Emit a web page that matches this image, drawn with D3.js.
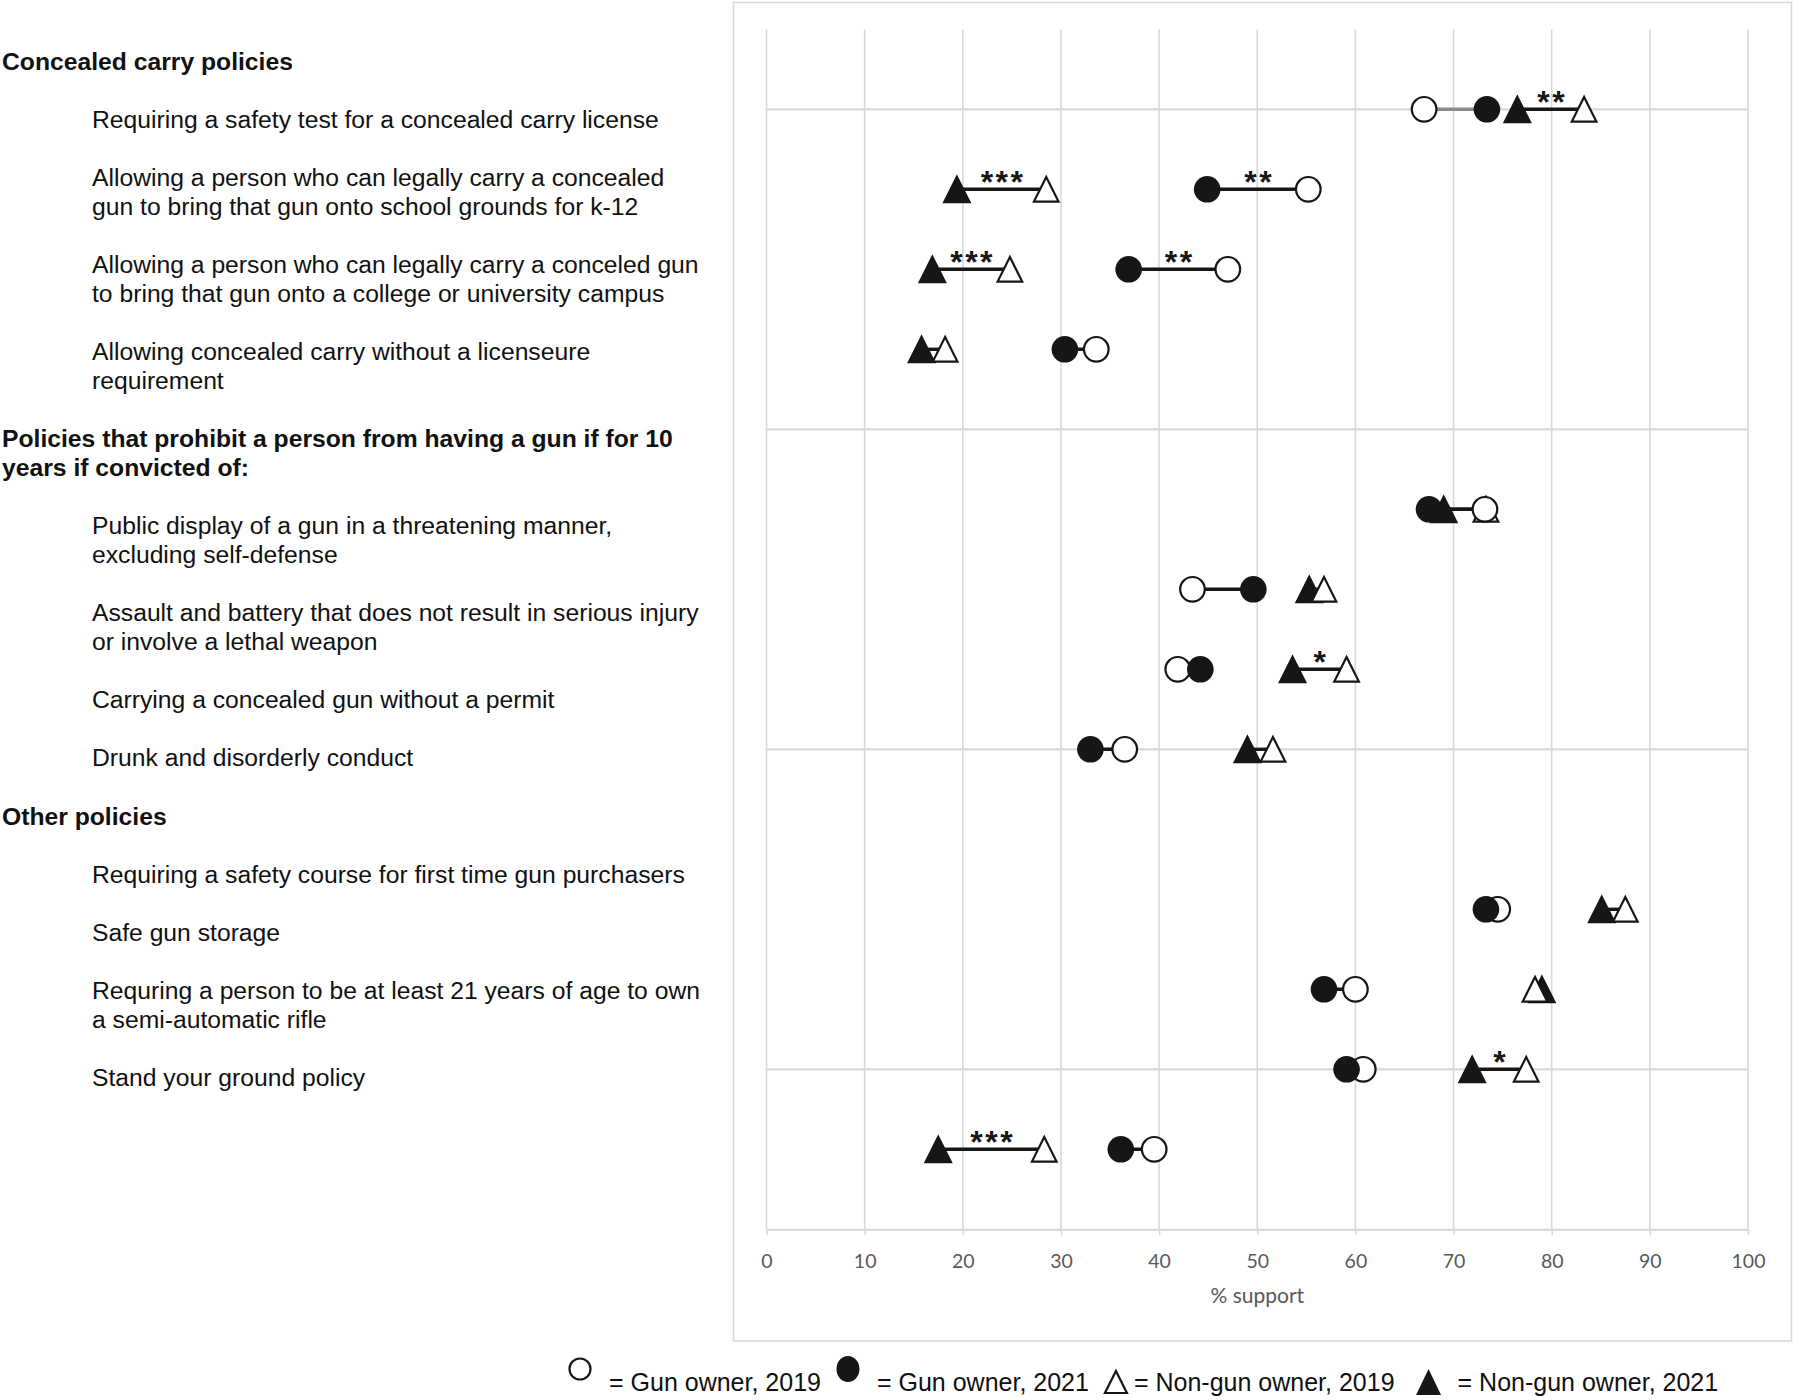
<!DOCTYPE html>
<html><head><meta charset="utf-8">
<script src="https://cdn.jsdelivr.net/npm/d3@7"></script>
<style>body{margin:0;background:#fff}</style>
</head><body><svg id="chart" width="1800" height="1400" xmlns="http://www.w3.org/2000/svg"></svg>
<script>
// ---------- DATA ----------
const categories = [
  "Requiring a safety test for a concealed carry license",
  "Allowing concealed gun onto school grounds for k-12",
  "Allowing concealed gun onto a college or university campus",
  "Allowing concealed carry without a licenseure requirement",
  "Policies that prohibit a person from having a gun for 10 years if convicted of:",
  "Public display of a gun in a threatening manner, excluding self-defense",
  "Assault and battery that does not result in serious injury or involve a lethal weapon",
  "Carrying a concealed gun without a permit",
  "Drunk and disorderly conduct",
  "Other policies",
  "Requiring a safety course for first time gun purchasers",
  "Safe gun storage",
  "Requring a person to be at least 21 years of age to own a semi-automatic rifle",
  "Stand your ground policy"
];
const gunOwner2019    = [67.0, 55.2, 47.0, 33.6, null, 73.2, 43.4, 41.9, 36.5, null, 74.5, 60.0, 60.8, 39.5];
const gunOwner2021    = [73.4, 44.9, 36.9, 30.4, null, 67.5, 49.6, 44.2, 33.0, null, 73.3, 56.8, 59.1, 36.1];
const nonGunOwner2019 = [83.3, 28.5, 24.8, 18.2, null, 73.3, 56.8, 59.1, 51.6, null, 87.5, 78.3, 77.4, 28.3];
const nonGunOwner2021 = [76.5, 19.4, 16.9, 15.8, null, 69.0, 55.3, 53.6, 49.0, null, 85.1, 79.0, 71.9, 17.5];
const gunOwnerSig     = ["", "**", "**", "", "", "", "", "", "", "", "", "", "", ""];
const nonGunOwnerSig  = ["**", "***", "***", "", "", "", "", "*", "", "", "", "", "*", "***"];
const xTickValues = [0, 10, 20, 30, 40, 50, 60, 70, 80, 90, 100];
const xAxisTitle = "% support";
const labelBlocks = [
  {bold: true,  lines: ["Concealed carry policies"]},
  {bold: false, lines: ["Requiring a safety test for a concealed carry license"]},
  {bold: false, lines: ["Allowing a person who can legally carry a concealed", "gun to bring that gun onto school grounds for k-12"]},
  {bold: false, lines: ["Allowing a person who can legally carry a conceled gun", "to bring that gun onto a college or university campus"]},
  {bold: false, lines: ["Allowing concealed carry without a licenseure", "requirement"]},
  {bold: true,  lines: ["Policies that prohibit a person from having a gun if for 10", "years if convicted of:"]},
  {bold: false, lines: ["Public display of a gun in a threatening manner,", "excluding self-defense"]},
  {bold: false, lines: ["Assault and battery that does not result in serious injury", "or involve a lethal weapon"]},
  {bold: false, lines: ["Carrying a concealed gun without a permit"]},
  {bold: false, lines: ["Drunk and disorderly conduct"]},
  {bold: true,  lines: ["Other policies"]},
  {bold: false, lines: ["Requiring a safety course for first time gun purchasers"]},
  {bold: false, lines: ["Safe gun storage"]},
  {bold: false, lines: ["Requring a person to be at least 21 years of age to own", "a semi-automatic rifle"]},
  {bold: false, lines: ["Stand your ground policy"]}
];
const legendLabels = ["= Gun owner, 2019", "= Gun owner, 2021", "= Non-gun owner, 2019", "= Non-gun owner, 2021"];

// ---------- LAYOUT ----------
const svg = d3.select("#chart");
const W = 1800, H = 1400;
const x = d3.scaleLinear().domain([0, 100]).range([766.5, 1748]);
const y = d3.scaleLinear().domain([0, 15]).range([29.3, 1229.3]);
const GRID = "#d9d9d9";
const INK = "#161616";
const labelFont = "'Liberation Sans', Arial, Helvetica, sans-serif";
const axisFont = "Lato, 'Open Sans', sans-serif";

svg.append("rect").attr("width", W).attr("height", H).attr("fill", "#fff");

// chart frame
svg.append("rect").attr("x", 733.5).attr("y", 2.5).attr("width", 1058).attr("height", 1338.5)
  .attr("fill", "none").attr("stroke", GRID).attr("stroke-width", 1.6);

// vertical gridlines
const gGrid = svg.append("g");
gGrid.selectAll("line.v").data(xTickValues).join("line").attr("class", "v")
  .attr("x1", d => x(d)).attr("x2", d => x(d))
  .attr("y1", y(0)).attr("y2", y(15))
  .attr("stroke", GRID).attr("stroke-width", 1.6);
// horizontal gridlines (every 4th row)
const hRows = d3.range(1, 15, 4);
gGrid.selectAll("line.h").data(hRows).join("line").attr("class", "h")
  .attr("x1", x(0)).attr("x2", x(100))
  .attr("y1", d => y(d)).attr("y2", d => y(d))
  .attr("stroke", GRID).attr("stroke-width", 2.2);

// x axis
const gAxis = svg.append("g").attr("transform", `translate(0,${y(15)})`)
  .call(d3.axisBottom(x).tickValues(xTickValues).tickSize(6).tickPadding(19).tickSizeOuter(0));
gAxis.select(".domain").attr("stroke", GRID).attr("stroke-width", 2.2);
gAxis.selectAll(".tick line").attr("stroke", GRID).attr("stroke-width", 1.6);
gAxis.selectAll(".tick text").attr("fill", "#595959").attr("font-family", axisFont).attr("font-size", 19.5);

svg.append("text").attr("x", x(50)).attr("y", 1303).attr("text-anchor", "middle")
  .attr("font-family", axisFont).attr("font-size", 21).attr("fill", "#595959").text(xAxisTitle);

// ---------- MARKS ----------
const rows = categories.map((c, i) => ({
  cat: c, row: i + 1,
  g19: gunOwner2019[i], g21: gunOwner2021[i],
  n19: nonGunOwner2019[i], n21: nonGunOwner2021[i],
  gs: gunOwnerSig[i], ns: nonGunOwnerSig[i]
})).filter(d => d.g19 != null);

const mutedConnector = {series: "gun", row: 1}; // first row gun-owner connector drawn grey
const connectors = [];
rows.forEach(d => {
  connectors.push({series: "gun", row: d.row, a: d.g19, b: d.g21, sig: d.gs});
  connectors.push({series: "non", row: d.row, a: d.n19, b: d.n21, sig: d.ns});
});

svg.append("g").selectAll("line").data(connectors).join("line")
  .attr("x1", d => x(d.a)).attr("x2", d => x(d.b))
  .attr("y1", d => y(d.row)).attr("y2", d => y(d.row))
  .attr("stroke", d => (d.series === mutedConnector.series && d.row === mutedConnector.row) ? "#8a8a8a" : INK)
  .attr("stroke-width", 3.4);

// significance stars
svg.append("g").selectAll("text").data(connectors.filter(d => d.sig)).join("text")
  .attr("x", d => x((d.a + d.b) / 2) + 1.5)
  .attr("y", d => y(d.row) + 4)
  .attr("text-anchor", "middle")
  .attr("font-family", labelFont).attr("font-weight", "bold").attr("font-size", 32)
  .attr("letter-spacing", 2.5).attr("fill", INK)
  .text(d => d.sig);

const R = 13.3;
const triPath = (cx, cy, r) => `M${cx},${cy - r}L${cx + r},${cy + r}L${cx - r},${cy + r}Z`;

const gMarks = svg.append("g");
// filled triangles (non-gun owner 2021)
gMarks.append("g").selectAll("path").data(rows).join("path")
  .attr("d", d => triPath(x(d.n21), y(d.row), R))
  .attr("fill", INK).attr("stroke", INK).attr("stroke-width", 1.5).attr("stroke-linejoin", "miter");
// open triangles (non-gun owner 2019)
gMarks.append("g").selectAll("path").data(rows).join("path")
  .attr("d", d => triPath(x(d.n19), y(d.row), R - 1))
  .attr("fill", "#fff").attr("stroke", INK).attr("stroke-width", 2.2).attr("stroke-linejoin", "miter");
// open circles (gun owner 2019)
gMarks.append("g").selectAll("circle").data(rows).join("circle")
  .attr("cx", d => x(d.g19)).attr("cy", d => y(d.row)).attr("r", R - 1)
  .attr("fill", "#fff").attr("stroke", INK).attr("stroke-width", 2.2);
// filled circles (gun owner 2021)
gMarks.append("g").selectAll("circle").data(rows).join("circle")
  .attr("cx", d => x(d.g21)).attr("cy", d => y(d.row)).attr("r", R)
  .attr("fill", INK).attr("stroke", "none");

// ---------- LEFT LABELS ----------
const lineBase = 70, lineStep = 29.02;
let li = 0;
const gLab = svg.append("g").attr("font-family", labelFont).attr("font-size", 24.7).attr("fill", "#111");
labelBlocks.forEach(b => {
  b.lines.forEach(t => {
    gLab.append("text")
      .attr("x", b.bold ? 2 : 92)
      .attr("y", lineBase + li * lineStep)
      .attr("font-weight", b.bold ? "bold" : "normal")
      .text(t);
    li++;
  });
  li++; // blank line between paragraphs
});

// ---------- LEGEND ----------
const legY = 1391;
const gLeg = svg.append("g").attr("font-family", labelFont).attr("font-size", 25).attr("fill", "#111");
const legendSymbols = ["openCircle", "filledCircle", "openTri", "filledTri"];
let cx = 580;
legendLabels.forEach((lab, i) => {
  const s = legendSymbols[i];
  if (s === "openCircle") {
    gLeg.append("ellipse").attr("cx", cx).attr("cy", 1369).attr("rx", 10.5).attr("ry", 10.5)
      .attr("fill", "#fff").attr("stroke", INK).attr("stroke-width", 2.2);
  } else if (s === "filledCircle") {
    gLeg.append("ellipse").attr("cx", cx).attr("cy", 1369).attr("rx", 11.5).attr("ry", 13)
      .attr("fill", INK);
  } else if (s === "openTri") {
    gLeg.append("path").attr("d", `M${cx},${1371}L${cx + 11},${1393}L${cx - 11},${1393}Z`)
      .attr("fill", "#fff").attr("stroke", INK).attr("stroke-width", 2.2);
  } else {
    gLeg.append("path").attr("d", `M${cx},${1369}L${cx + 12.5},${1395}L${cx - 12.5},${1395}Z`)
      .attr("fill", INK);
  }
  const tx = cx + (s === "openTri" ? 18 : 29);
  const t = gLeg.append("text").attr("x", tx).attr("y", legY).text(lab);
  const w = t.node().getComputedTextLength();
  cx = tx + w + (i === 2 ? 34 : 27);
});
</script>
</body></html>
